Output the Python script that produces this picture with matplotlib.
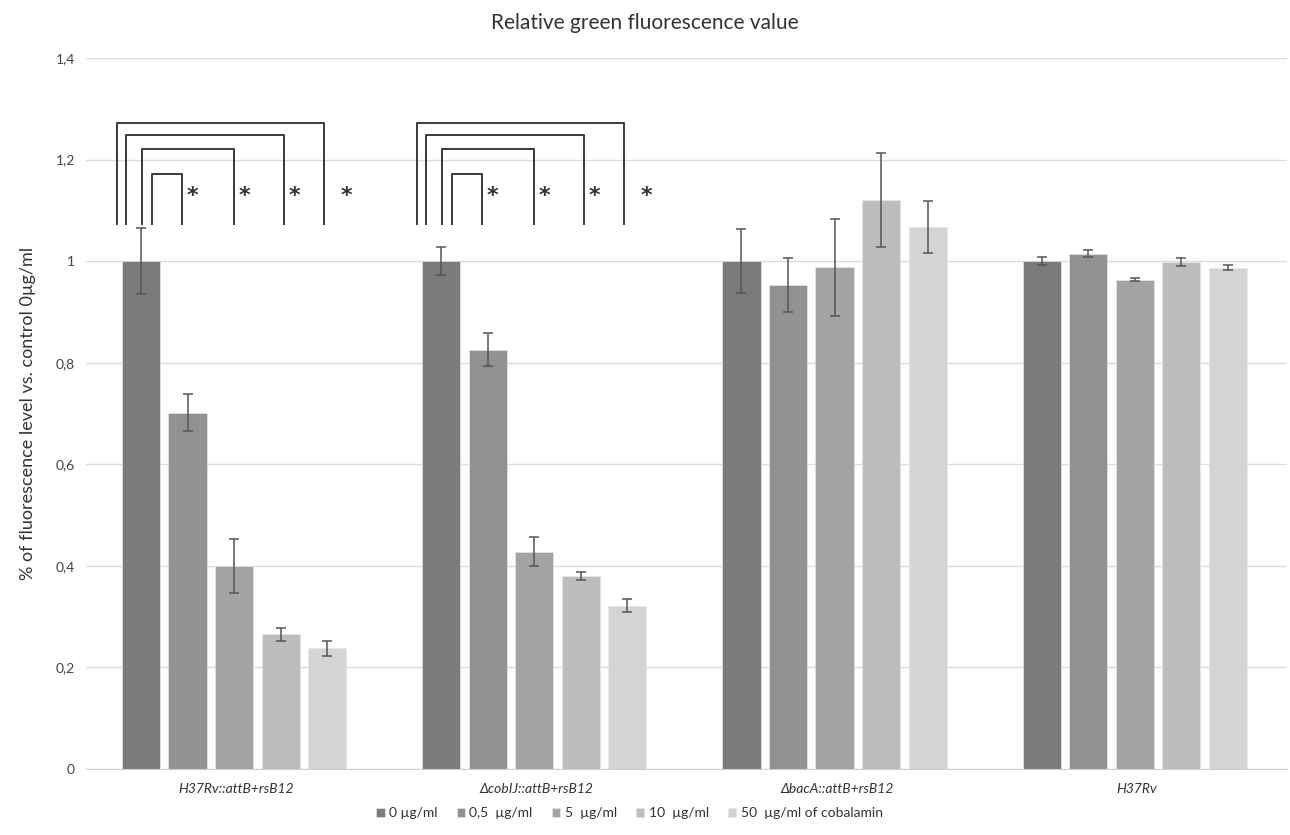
import matplotlib

matplotlib.use("Agg")

import matplotlib.pyplot as plt
import numpy as np

plt.rcParams["font.family"] = ["Lato", "DejaVu Sans"]

# data
strains = ["H37Rv::attB+rsB12", "ΔcobIJ::attB+rsB12", "ΔbacA::attB+rsB12", "H37Rv"]
doses = ["0 µg/ml", "0,5  µg/ml", "5  µg/ml", "10  µg/ml", "50  µg/ml of cobalamin"]
values = [
    [1.0, 0.702, 0.400, 0.265, 0.238],
    [1.0, 0.826, 0.428, 0.380, 0.322],
    [1.0, 0.953, 0.988, 1.120, 1.068],
    [1.0, 1.015, 0.963, 0.999, 0.987],
]
errors = [
    [0.065, 0.037, 0.053, 0.013, 0.015],
    [0.027, 0.032, 0.028, 0.007, 0.012],
    [0.063, 0.053, 0.095, 0.093, 0.051],
    [0.008, 0.007, 0.003, 0.008, 0.005],
]
yticks = [0, 0.2, 0.4, 0.6, 0.8, 1.0, 1.2, 1.4]
ytick_labels = ["0", "0,2", "0,4", "0,6", "0,8", "1", "1,2", "1,4"]
signif_groups = [0, 1]

colors = ["#7b7b7b", "#919191", "#a3a3a3", "#bdbdbd", "#d4d4d4"]

fig = plt.figure(figsize=(12.9, 8.35), dpi=100)
ax = fig.add_axes([0.0667, 0.079, 0.931, 0.8515])

vals = np.array(values)
errs = np.array(errors)
x = np.arange(len(strains))
step = 0.155
width = 0.127
offsets = (np.arange(len(doses)) - 2) * step

for j, dose in enumerate(doses):
    ax.bar(
        x + offsets[j] - 0.007,
        vals[:, j],
        width=width,
        color=colors[j],
        label=dose,
        zorder=2,
        edgecolor="#e6e6e6",
        linewidth=0.5,
    )
    ax.errorbar(
        x + offsets[j] - 0.007,
        vals[:, j],
        yerr=errs[:, j],
        fmt="none",
        ecolor="#555555",
        elinewidth=1.1,
        capsize=3.5,
        capthick=1.1,
        zorder=3,
    )

# significance brackets (left leg, right leg, top) relative to group center
brackets = [
    (-0.39, 0.30, 1.272),
    (-0.36, 0.167, 1.248),
    (-0.308, 0.0, 1.220),
    (-0.273, -0.173, 1.172),
]
star_x = [-0.14, 0.033, 0.2, 0.373]
leg_bottom = 1.074
for g in signif_groups:
    c = x[g] - 0.007
    for (l, r, top) in brackets:
        ax.plot(
            [c + l, c + l, c + r, c + r],
            [leg_bottom, top, top, leg_bottom],
            color="#3a3a3a",
            linewidth=1.4,
            zorder=4,
        )
    for sx in star_x:
        ax.text(c + sx, 1.128, "*", ha="center", va="center",
                fontsize=16, fontweight="bold", color="#333333",
                family=["DejaVu Sans"])

ax.set_xlim(-0.5, len(strains) - 0.5)
ax.set_ylim(0, 1.4)
ax.set_yticks(yticks)
ax.set_yticklabels(ytick_labels, fontsize=10, color="#444444")
ax.set_xticks(x)
ax.set_xticklabels(strains, fontsize=10, style="italic", color="#333333")
ax.tick_params(axis="x", length=0, pad=10)
ax.tick_params(axis="y", length=0, pad=8)
ax.yaxis.grid(True, color="#dcdcdc", linewidth=1.0, zorder=0)
ax.set_axisbelow(True)
for s in ["top", "right", "left"]:
    ax.spines[s].set_visible(False)
ax.spines["bottom"].set_color("#d0d0d0")

ax.set_ylabel("% of fluorescence level vs. control 0µg/ml", fontsize=13,
              color="#333333", labelpad=14)

fig.text(0.5, 0.973, "Relative green fluorescence value", ha="center",
         va="center", fontsize=15, color="#333333")

fig.legend(
    loc="center",
    bbox_to_anchor=(0.488, 0.026),
    ncol=5,
    frameon=False,
    fontsize=10,
    handlelength=0.6,
    handleheight=0.6,
    handletextpad=0.3,
    columnspacing=1.4,
    labelcolor="#333333",
)

fig.savefig("out.png", dpi=100)
plt.close(fig)
